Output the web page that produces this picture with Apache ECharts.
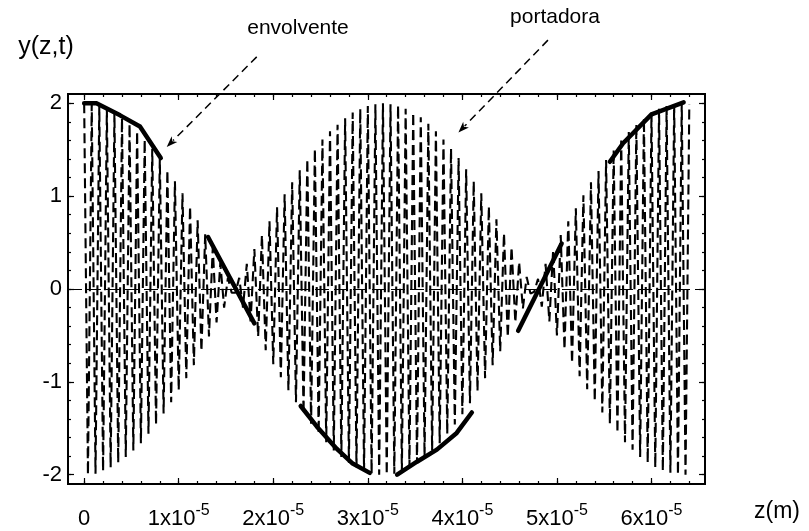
<!DOCTYPE html>
<html>
<head>
<meta charset="utf-8">
<script src="https://cdn.jsdelivr.net/npm/echarts@6/dist/echarts.min.js"></script>
<style>
html,body{margin:0;padding:0;background:#fff;}
#chart{width:809px;height:531px;}
</style>
</head>
<body>
<div id="chart"></div>
<script>
// ---- data (z in units of 1e-5 m) ----
const zTicks = [0, 1, 2, 3, 4, 5, 6];
const zMinorTicks = [0,0.2,0.4,0.6,0.8,1,1.2,1.4,1.6,1.8,2,2.2,2.4,2.6,2.8,3,3.2,3.4,3.6,3.8,4,4.2,4.4,4.6,4.8,5,5.2,5.4,5.6,5.8,6,6.2,6.4];
const yTicks = [-2, -1, 0, 1, 2];
const yMinorTicks = [-2,-1.8,-1.6,-1.4,-1.2,-1,-0.8,-0.6,-0.4,-0.2,0,0.2,0.4,0.6,0.8,1,1.2,1.4,1.6,1.8,2];

// carrier ("portadora") extrema
const zCarrier = [0,0.04,0.08,0.12,0.16,0.2,0.24,0.28,0.32,0.36,0.4,0.44,0.48,0.52,0.56,0.6,0.64,0.68,0.72,0.76,0.8,0.84,0.88,0.92,0.96,1,1.04,1.08,1.12,1.16,1.2,1.24,1.28,1.32,1.36,1.4,1.44,1.48,1.52,1.56,1.6,1.64,1.68,1.72,1.76,1.8,1.84,1.88,1.92,1.96,2,2.04,2.08,2.12,2.16,2.2,2.24,2.28,2.32,2.36,2.4,2.44,2.48,2.52,2.56,2.6,2.64,2.68,2.72,2.76,2.8,2.84,2.88,2.92,2.96,3,3.04,3.08,3.12,3.16,3.2,3.24,3.28,3.32,3.36,3.4,3.44,3.48,3.52,3.56,3.6,3.64,3.68,3.72,3.76,3.8,3.84,3.88,3.92,3.96,4,4.04,4.08,4.12,4.16,4.2,4.24,4.28,4.32,4.36,4.4,4.44,4.48,4.52,4.56,4.6,4.64,4.68,4.72,4.76,4.8,4.84,4.88,4.92,4.96,5,5.04,5.08,5.12,5.16,5.2,5.24,5.28,5.32,5.36,5.4,5.44,5.48,5.52,5.56,5.6,5.64,5.68,5.72,5.76,5.8,5.84,5.88,5.92,5.96,6,6.04,6.08,6.12,6.16,6.2,6.24,6.28,6.32,6.36,6.4];
const yCarrier = [2.00,-2.00,1.99,-1.99,1.97,-1.96,1.94,-1.92,1.90,-1.87,1.84,-1.81,1.78,-1.74,1.70,-1.66,1.61,-1.56,1.51,-1.46,1.40,-1.34,1.28,-1.22,1.16,-1.09,1.03,-0.96,0.89,-0.82,0.74,-0.67,0.59,-0.51,0.44,-0.36,0.28,-0.20,0.12,-0.04,
  -0.04,0.12,-0.20,0.27,-0.35,0.43,-0.51,0.58,-0.66,0.73,-0.81,0.88,-0.95,1.02,-1.09,1.15,-1.22,1.28,-1.34,1.40,-1.45,1.51,-1.56,1.61,-1.65,1.70,-1.74,1.77,-1.81,1.84,-1.87,1.90,-1.92,1.94,-1.96,1.97,-1.99,1.99,-2.00,2.00,
  -2.00,1.99,-1.99,1.98,-1.96,1.94,-1.92,1.90,-1.88,1.85,-1.81,1.78,-1.74,1.70,-1.66,1.61,-1.56,1.51,-1.46,1.41,-1.35,1.29,-1.23,1.16,-1.10,1.03,-0.96,0.89,-0.82,0.75,-0.67,0.60,-0.52,0.45,-0.36,0.29,-0.21,0.13,-0.05,
  -0.03,0.11,-0.19,0.27,-0.35,0.42,-0.50,0.58,-0.65,0.73,-0.80,0.87,-0.94,1.01,-1.08,1.15,-1.21,1.27,-1.33,1.39,-1.45,1.50,-1.55,1.60,-1.65,1.69,-1.73,1.77,-1.81,1.84,-1.87,1.90,-1.92,1.94,-1.96,1.97,-1.98,1.99,-2.00,2.00,-2.00,1.99];

// envelope ("envolvente") pieces drawn thick
const env1Z = [0, 0.13, 0.38, 0.59, 0.81];      const env1Y = [2.0, 2.0, 1.87, 1.75, 1.41];
const env2Z = [1.31, 1.80];                      const env2Y = [0.56, -0.37];
const env3Z = [2.29, 2.46, 2.67, 2.84, 3.02];    const env3Y = [-1.26, -1.48, -1.72, -1.88, -1.98];
const env4Z = [3.31, 3.52, 3.73, 3.94, 4.10];    const env4Y = [-2.00, -1.86, -1.73, -1.55, -1.33];
const env5Z = [4.59, 5.05];                      const env5Y = [-0.45, 0.49];
const env6Z = [5.56, 5.70, 6.00, 6.34];          const env6Y = [1.37, 1.57, 1.88, 2.01];

// annotation arrows (data units): start -> tip
const annEnvFrom = [1.825, 2.50];  const annEnvTo = [0.873, 1.53];
const annPorFrom = [4.905, 2.68];  const annPorTo = [3.958, 1.685];

// ---- chart ----
const FONT = "'Liberation Sans', Arial, sans-serif";
const zMin = -0.171, zMax = 6.566, yMin = -2.1, yMax = 2.1;
const pair = (zs, ys) => zs.map((z, i) => [z, ys[i]]);

function xAx(pos, ticks, len, withLabels) {
  return {
    type: 'value', position: pos, min: zMin, max: zMax,
    axisLine: { show: false, onZero: false },
    splitLine: { show: false },
    axisTick: { show: true, inside: true, length: len, customValues: ticks, lineStyle: { color: '#000', width: 1.2 } },
    axisLabel: withLabels ? {
      show: true, customValues: zTicks, margin: 19, color: '#000', fontFamily: FONT,
      formatter: v => v === 0 ? '{b|0}' : '{b|' + v + 'x10}{s|-5}',
      rich: {
        b: { fontSize: 22, fontFamily: FONT, color: '#000', lineHeight: 27, verticalAlign: 'bottom' },
        s: { fontSize: 16, fontFamily: FONT, color: '#000', lineHeight: 27, verticalAlign: 'top' }
      }
    } : { show: false }
  };
}
function yAx(pos, ticks, len, withLabels) {
  return {
    type: 'value', position: pos, min: yMin, max: yMax,
    axisLine: { show: false, onZero: false },
    splitLine: { show: false },
    axisTick: { show: true, inside: true, length: len, customValues: ticks, lineStyle: { color: '#000', width: 1.2 } },
    axisLabel: withLabels ? {
      show: true, customValues: yTicks, margin: 6, color: '#000', fontFamily: FONT, fontSize: 22
    } : { show: false }
  };
}

const envStyle = { color: '#000', width: 4.5, cap: 'round', join: 'round' };
function envSeries(zs, ys) {
  return { type: 'line', data: pair(zs, ys), symbol: 'none', lineStyle: envStyle, z: 5, animation: false };
}

const chart = echarts.init(document.getElementById('chart'), null, { renderer: 'canvas' });
chart.setOption({
  backgroundColor: '#fff',
  animation: false,
  grid: { left: 68, right: 104, top: 94, bottom: 47, show: true, borderColor: '#000', borderWidth: 2, backgroundColor: 'transparent' },
  xAxis: [xAx('bottom', zTicks, 6, true), xAx('bottom', zMinorTicks, 3, false), xAx('top', zTicks, 6, false), xAx('top', zMinorTicks, 3, false)],
  yAxis: [yAx('left', yTicks, 6, true), yAx('left', yMinorTicks, 3, false), yAx('right', yTicks, 6, false), yAx('right', yMinorTicks, 3, false)],
  series: [
    {
      type: 'line', data: pair(zCarrier, yCarrier), symbol: 'none',
      lineStyle: { color: '#000', width: 2.1, type: [10, 5] }, animation: false,
      markLine: { silent: true, symbol: 'none', label: { show: false }, data: [{ yAxis: 0 }],
        lineStyle: { color: '#000', width: 1.2, type: [14, 5] } }
    },
    envSeries(env1Z, env1Y), envSeries(env2Z, env2Y), envSeries(env3Z, env3Y),
    envSeries(env4Z, env4Y), envSeries(env5Z, env5Y), envSeries(env6Z, env6Y)
  ]
});

function arrow(from, to) {
  const a = chart.convertToPixel({ xAxisIndex: 0, yAxisIndex: 0 }, from);
  const b = chart.convertToPixel({ xAxisIndex: 0, yAxisIndex: 0 }, to);
  const dx = b[0] - a[0], dy = b[1] - a[1], L = Math.hypot(dx, dy);
  const ux = dx / L, uy = dy / L, px = -uy, py = ux;
  const hl = 11, hw = 4;
  const base = [b[0] - ux * hl, b[1] - uy * hl];
  return [
    { type: 'line', shape: { x1: a[0], y1: a[1], x2: base[0] + ux * 2, y2: base[1] + uy * 2 },
      style: { stroke: '#000', lineWidth: 1.5, lineDash: [8, 5] } },
    { type: 'polygon', shape: { points: [b, [base[0] + px * hw, base[1] + py * hw], [base[0] + ux * 3, base[1] + uy * 3], [base[0] - px * hw, base[1] - py * hw]] },
      style: { fill: '#000' } }
  ];
}

const textStyle = (t, size) => ({ text: t, fill: '#000', font: size + 'px ' + FONT });
chart.setOption({
  graphic: [
    ...arrow(annEnvFrom, annEnvTo),
    ...arrow(annPorFrom, annPorTo),
    { type: 'text', x: 298, y: 28, style: Object.assign(textStyle('envolvente', 21), { align: 'center', verticalAlign: 'middle' }) },
    { type: 'text', x: 555, y: 17, style: Object.assign(textStyle('portadora', 21), { align: 'center', verticalAlign: 'middle' }) },
    { type: 'text', x: 46, y: 47, style: Object.assign(textStyle('y(z,t)', 25), { align: 'center', verticalAlign: 'middle' }) },
    { type: 'text', x: 777, y: 512, style: Object.assign(textStyle('z(m)', 23), { align: 'center', verticalAlign: 'middle' }) }
  ]
});
</script>
</body>
</html>
